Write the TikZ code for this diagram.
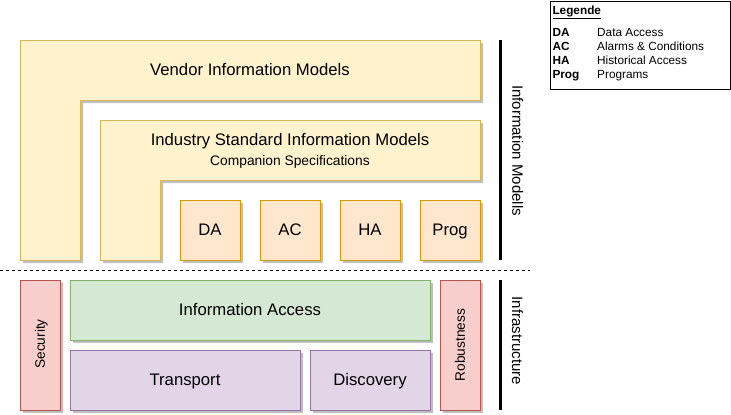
\documentclass[tikz,border=0pt]{standalone}
\usepackage{fontspec}
\setmainfont{Liberation Sans}
\usetikzlibrary{shadows}

\definecolor{modelfill}{HTML}{FFF2CC}
\definecolor{modelline}{HTML}{D6B656}
\definecolor{facetfill}{HTML}{FFE6CC}
\definecolor{facetline}{HTML}{D79B00}
\definecolor{accessfill}{HTML}{D5E8D4}
\definecolor{accessline}{HTML}{82B366}
\definecolor{transfill}{HTML}{E1D5E7}
\definecolor{transline}{HTML}{9673A6}
\definecolor{aspectfill}{HTML}{F8CECC}
\definecolor{aspectline}{HTML}{B85450}

\tikzset{
  shade3/.style={drop shadow={shadow xshift=3pt, shadow yshift=-3pt, opacity=1, fill=black!25}},
  mainfont/.style={font=\fontsize{16.7}{19}\selectfont},
  box/.style={draw, shade3, inner sep=0pt, mainfont, text height=12pt, text depth=2pt},
  facet/.style={box, draw=facetline, fill=facetfill, minimum width=60pt, minimum height=60pt},
  access/.style={box, draw=accessline, fill=accessfill},
  transfer/.style={box, draw=transline, fill=transfill},
  aspect/.style={box, draw=aspectline, fill=aspectfill},
  sidelabel/.style={inner sep=0pt, font=\fontsize{13.7}{16}\selectfont, text height=9.8pt, text depth=0pt},
  layerlabel/.style={inner sep=0pt, font=\fontsize{15}{18}\selectfont, text height=10.7pt, text depth=0pt},
  legendtext/.style={inner sep=0pt, anchor=base west, font=\fontsize{11.8}{14}\selectfont}
}

\begin{document}
\begin{tikzpicture}[x=1pt, y=-1pt, line width=1pt]

  \useasboundingbox (0,0) rectangle (731,415);

  % Vendor and industry models as L shapes
  \draw[modelline, fill=modelfill, shade3] (20,40) -- (480,40) -- (480,100) -- (80,100) -- (80,260) -- (20,260) -- cycle;
  \node[mainfont, anchor=base] (vendor) at (250,75) {Vendor Information Models};

  \draw[modelline, fill=modelfill, shade3] (100,120) -- (480,120) -- (480,180) -- (160,180) -- (160,260) -- (100,260) -- cycle;
  \node[mainfont, anchor=base] (industry) at (290,145.7) {Industry Standard Information Models};
  \node[font=\fontsize{13.8}{16}\selectfont, anchor=base] (companion) at (290,165.5) {Companion Specifications};

  % Base information models
  \node[facet] (da) at (210,230) {DA};
  \node[facet] (ac) at (290,230) {AC};
  \node[facet] (ha) at (370,230) {HA};
  \node[facet] (prog) at (450,230) {Prog};

  % Separator
  \draw[dash pattern=on 3pt off 3pt] (0,270) -- (530,270);

  % Infrastructure
  \node[aspect, minimum width=40pt, minimum height=130pt] (security) at (40,345) {};
  \node[sidelabel, rotate=90] (securitytext) at (40,344) {Security};
  \node[access, minimum width=360pt, minimum height=60pt] (infoaccess) at (250,310) {Information Access};
  \node[transfer, minimum width=230pt, minimum height=60pt] (transport) at (185,380) {Transport};
  \node[transfer, minimum width=120pt, minimum height=60pt] (discovery) at (370,380) {Discovery};
  \node[aspect, minimum width=40pt, minimum height=130pt] (robustness) at (460,345) {};
  \node[sidelabel, rotate=90] (robustnesstext) at (460,345) {Robustness};

  % Layer brackets
  \draw[line width=3pt] (500,40) -- (500,260);
  \node[layerlabel, rotate=-90] (models) at (517.8,150.5) {Information Modells};
  \draw[line width=3pt] (500,280) -- (500,410);
  \node[layerlabel, rotate=-90] (infra) at (517.5,341) {Infrastructure};

  % Legend
  \draw (550.5,1.5) rectangle (730.5,89.5);
  \node[legendtext] (legend) at (552,14) {\textbf{\underline{Legende}}};
  \foreach \abbr/\desc [count=\i] in {DA/Data Access, AC/Alarms \& Conditions, HA/Historical Access, Prog/Programs} {
    \node[legendtext] (abbr\i) at (552,22+14*\i) {\textbf{\abbr}};
    \node[legendtext] (desc\i) at (596.7,22+14*\i) {\desc};
  }

\end{tikzpicture}
\end{document}
